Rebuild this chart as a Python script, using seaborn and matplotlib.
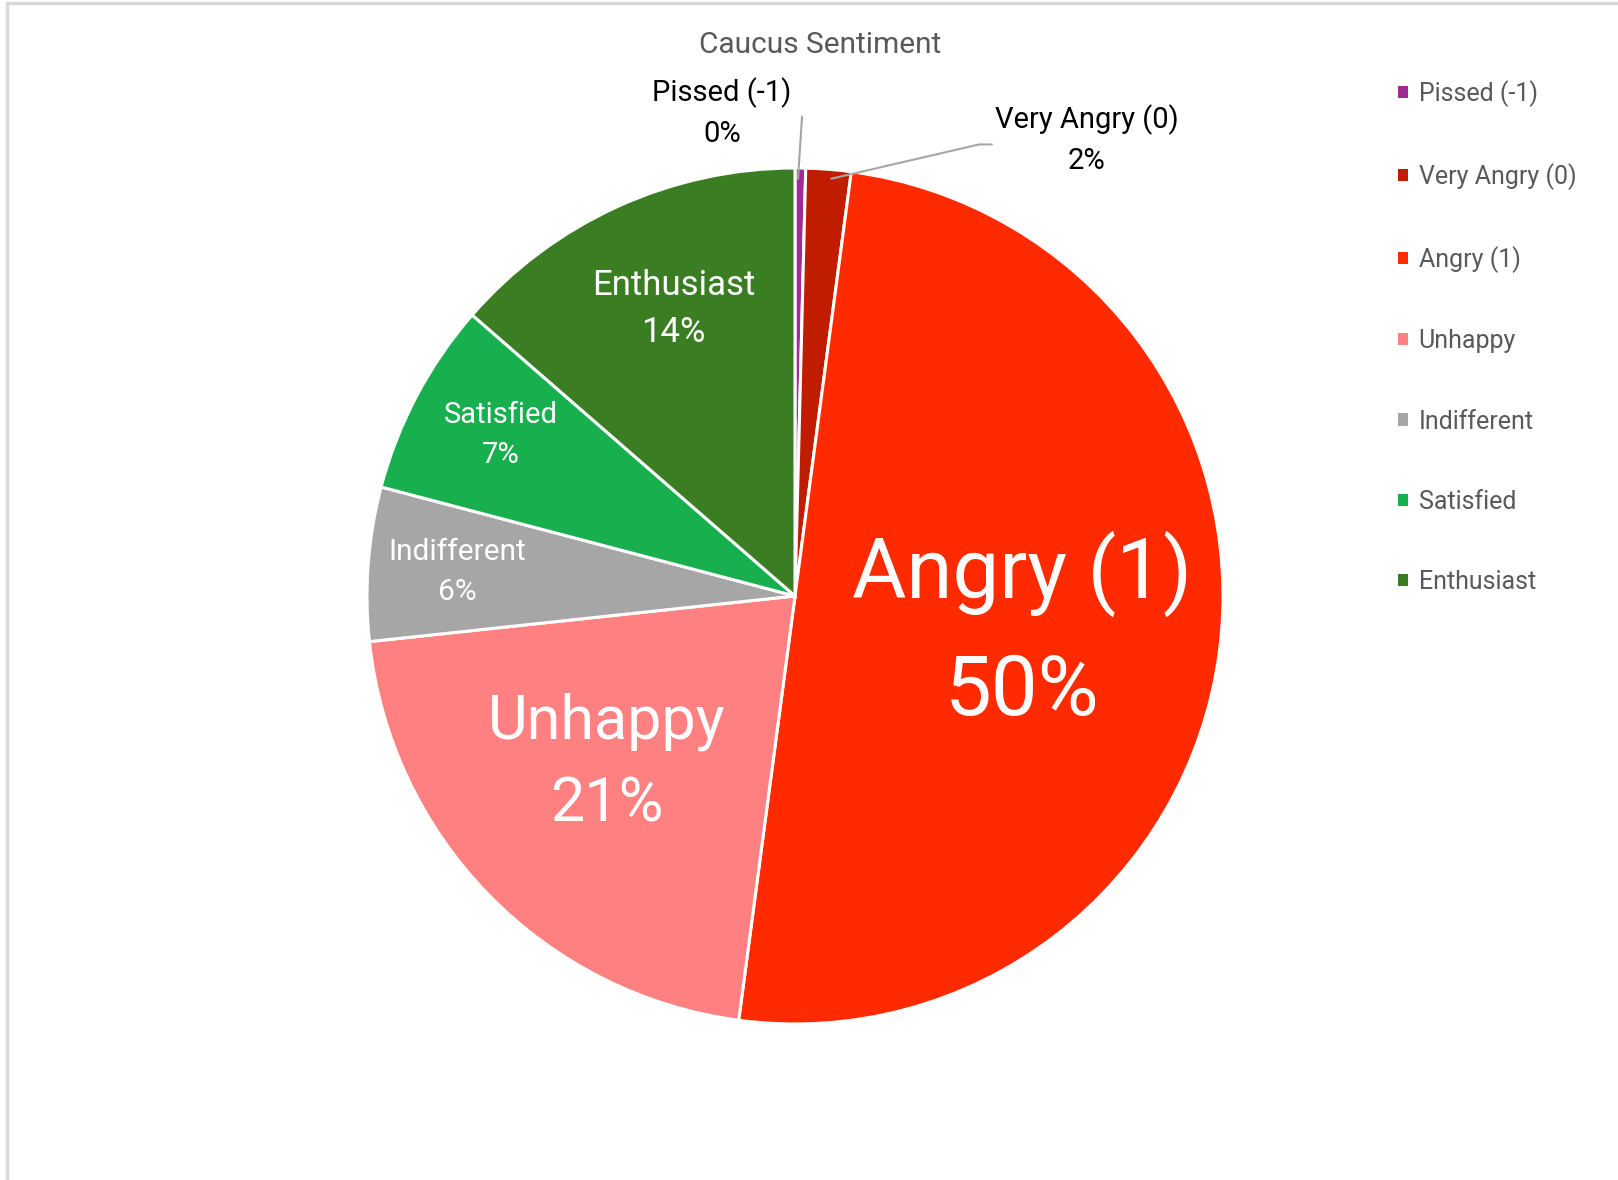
import matplotlib
matplotlib.use("Agg")
import matplotlib.pyplot as plt
from matplotlib.lines import Line2D
from matplotlib.patches import Patch
import seaborn as sns

categories = ["Pissed (-1)", "Very Angry (0)", "Angry (1)", "Unhappy",
              "Indifferent", "Satisfied", "Enthusiast"]
shares = [0.4, 1.7, 50.0, 21.2, 5.8, 7.3, 13.6]
pct_labels = ["0%", "2%", "50%", "21%", "6%", "7%", "14%"]
colors = ["#A02B93", "#C01C00", "#FF2A00", "#FF8080", "#A6A6A6", "#18AF4F", "#3B7D23"]

sns.set_theme(style="white")
plt.rcParams["font.family"] = ["Roboto", "DejaVu Sans"]

W, H = 1618, 1180
fig = plt.figure(figsize=(W / 100, H / 100), dpi=100)
fig.patch.set_facecolor("white")

palette = sns.color_palette(colors)
cx, cy, r = 795, 596, 428
ax = fig.add_axes([(cx - r) / W, 1 - (cy + r) / H, 2 * r / W, 2 * r / H])
wedges, _ = ax.pie(shares, colors=palette, startangle=90,
                   counterclock=False, radius=1,
                   wedgeprops=dict(edgecolor="white", linewidth=2.2))
ax.set_xlim(-1, 1)
ax.set_ylim(-1, 1)
ax.set_aspect("equal")
ax.axis("off")

# in-slice labels: (x, y, size, color)
label_pos = [
    (-0.171, 1.130, 21, "black"),
    (0.682, 1.066, 21, "black"),
    (0.53, -0.082, 60, "white"),
    (-0.44, -0.39, 44, "white"),
    (-0.79, 0.057, 21.5, "white"),
    (-0.687, 0.377, 21, "white"),
    (-0.284, 0.67, 25, "white"),
]
for cat, pct, (x, y, s, c) in zip(categories, pct_labels, label_pos):
    ax.text(x, y, f"{cat}\n{pct}", ha="center", va="center", fontsize=s,
            color=c, linespacing=1.55, clip_on=False)

# leader lines
ax.plot([0.007, 0.0165], [0.975, 1.12], color="#A6A6A6", lw=1.5, clip_on=False)
ax.plot([0.085, 0.43, 0.46], [0.975, 1.055, 1.055], color="#A6A6A6", lw=1.5, clip_on=False)

fig.text(820 / W, 1 - 45 / H, "Caucus Sentiment", ha="center", va="center",
         fontsize=21.5, color="#595959")

handles = [Patch(facecolor=c, edgecolor="none") for c in palette]
leg = fig.legend(handles, categories, loc="upper left",
                 bbox_to_anchor=(1398 / W, 1 - 80 / H), frameon=False,
                 fontsize=18, labelcolor="#595959", handlelength=0.38,
                 handleheight=0.38, handletextpad=0.45, labelspacing=2.25,
                 borderpad=0, borderaxespad=0)

# chart frame (left and top edges)
fig.add_artist(Line2D([7.5 / W, 7.5 / W], [0, 1 - 3 / H], color="#D9D9D9", lw=2.5,
                      transform=fig.transFigure))
fig.add_artist(Line2D([7.5 / W, 1], [1 - 3 / H, 1 - 3 / H], color="#D9D9D9", lw=2.5,
                      transform=fig.transFigure))

fig.savefig("out.png", dpi=100, facecolor="white")
